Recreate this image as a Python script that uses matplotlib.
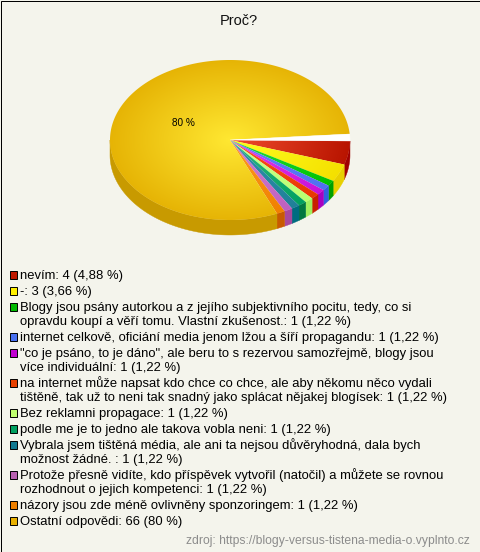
import matplotlib
matplotlib.use("Agg")
import matplotlib.pyplot as plt
from matplotlib.patches import Polygon, Rectangle
import numpy as np

plt.rcParams['font.family'] = ['Liberation Sans', 'DejaVu Sans']

# data
counts = [4, 3, 1, 1, 1, 1, 1, 1, 1, 1, 1, 66]
labels = [
    "nevím: 4 (4,88 %)",
    "-: 3 (3,66 %)",
    "Blogy jsou psány autorkou a z jejího subjektivního pocitu, tedy, co si\nopravdu koupí a věří tomu. Vlastní zkušenost.: 1 (1,22 %)",
    "internet celkově, oficiání media jenom lžou a šíří propagandu: 1 (1,22 %)",
    "\"co je psáno, to je dáno\", ale beru to s rezervou samozřejmě, blogy jsou\nvíce individuální: 1 (1,22 %)",
    "na internet může napsat kdo chce co chce, ale aby někomu něco vydali\ntištěně, tak už to neni tak snadný jako splácat nějakej blogísek: 1 (1,22 %)",
    "Bez reklamni propagace: 1 (1,22 %)",
    "podle me je to jedno ale takova vobla neni: 1 (1,22 %)",
    "Vybrala jsem tištěná média, ale ani ta nejsou důvěryhodná, dala bych\nmožnost žádné. : 1 (1,22 %)",
    "Protože přesně vidíte, kdo příspěvek vytvořil (natočil) a můžete se rovnou\nrozhodnout o jejich kompetenci: 1 (1,22 %)",
    "názory jsou zde méně ovlivněny sponzoringem: 1 (1,22 %)",
    "Ostatní odpovědi: 66 (80 %)",
]
swatch = ['#C01800', '#FFF000', '#00B800', '#4870F0', '#C000D0', '#E84000',
          '#C0FF70', '#00A060', '#107890', '#B860B0', '#F08000', '#E8B000']
rim = ['#B81400', '#F4E000', '#00C000', '#5070F0', '#C810D8', '#E83800',
       '#B8FF70', '#00A060', '#208098', '#C060C0', '#F08000', '#E6B405']
center = ['#F04C2C', '#FFFF20', '#20E040', '#6080FF', '#E040F0', '#FF5020',
          '#D0FF90', '#30B880', '#3090B0', '#D080D0', '#FF9C20', '#FFE832']
side = ['#A00000', '#E8D000', '#00A000', '#3060E0', '#A800C0', '#C82000',
        '#A0F060', '#007840', '#006C80', '#A8489C', '#C85A00', '#C89A00']

bg = '#F4F4EC'
cx, cy, rx, ry, depth = 230, 140, 120, 80, 15

fig = plt.figure(figsize=(4.8, 5.52), dpi=100, facecolor=bg)
ax = fig.add_axes([0, 0, 1, 1])
ax.set_xlim(0, 480)
ax.set_ylim(552, 0)
ax.axis('off')

# angles clockwise from 3 o'clock, the small slices sit a bit tighter in the original
fracs = np.cumsum([0] + counts) / sum(counts) * 360
angles = np.interp(fracs, [0, 31, 70.3, 360], [0.7, 31, 67, 355.7])


def arc(a0, a1, dy=0):
    t = np.radians(np.linspace(a0, a1, max(int(abs(a1 - a0) * 2), 2)))
    return np.column_stack([cx + rx * np.cos(t), cy + dy + ry * np.sin(t)])


def blend(c0, c1, t):
    c0 = np.array(matplotlib.colors.to_rgb(c0))
    c1 = np.array(matplotlib.colors.to_rgb(c1))
    return c0[None, None, :] * (1 - t[..., None]) + c1[None, None, :] * t[..., None]


# side wall, only the front half shows
for i in range(len(counts)):
    a0, a1 = angles[i], min(angles[i + 1], 180)
    if a0 >= 180:
        continue
    wall = np.vstack([arc(a0, a1), arc(a0, a1, depth)[::-1]])
    ax.add_patch(Polygon(wall, closed=True, fc=side[i], ec=side[i], lw=0.3))

# top face with radial gradient
gx, gy = np.meshgrid(np.linspace(-1.02, 1.02, 500), np.linspace(-1.02, 1.02, 340))
r = np.clip(np.hypot(gx, gy), 0, 1)
ext = [cx - rx * 1.02, cx + rx * 1.02, cy + ry * 1.02, cy - ry * 1.02]
for i in range(len(counts)):
    face = np.vstack([[cx, cy], arc(angles[i], angles[i + 1])])
    edge = Polygon(face, closed=True, fc='none', ec='none')
    ax.add_patch(edge)
    im = ax.imshow(blend(center[i], rim[i], r), extent=ext, aspect='auto',
                   interpolation='bilinear', zorder=2)
    im.set_clip_path(edge)
ax.set_xlim(0, 480)
ax.set_ylim(552, 0)

# white gap beside the big slice
gap = np.vstack([[cx, cy], arc(angles[-1], 360.7)])
ax.add_patch(Polygon(gap, closed=True, fc='white', ec='white', lw=0.3, zorder=3))

ax.text(183, 126, "80 %", fontsize=7.2, ha='center', va='baseline', color='black', zorder=4)
ax.text(238.5, 25, "Proč?", fontsize=10.5, ha='center', va='baseline', color='#111111')

# legend
y = 279
for lab, col in zip(labels, swatch):
    ax.add_patch(Rectangle((9.5, y - 8.5), 7.5, 8, fc=col, ec='black', lw=0.7))
    for ln in lab.split("\n"):
        ax.text(20, y, ln, fontsize=9.4, ha='left', va='baseline', color='black')
        y += 14
    y += 2

ax.text(470, 544, "zdroj: https://blogy-versus-tistena-media-o.vyplnto.cz", fontsize=8.75,
        ha='right', va='baseline', color='#8C8C8C')

# frame
ax.add_patch(Rectangle((0.5, 0.5), 479, 551, fc='none', ec='black', lw=0.72))

fig.savefig("out.png", dpi=100, facecolor=bg)
